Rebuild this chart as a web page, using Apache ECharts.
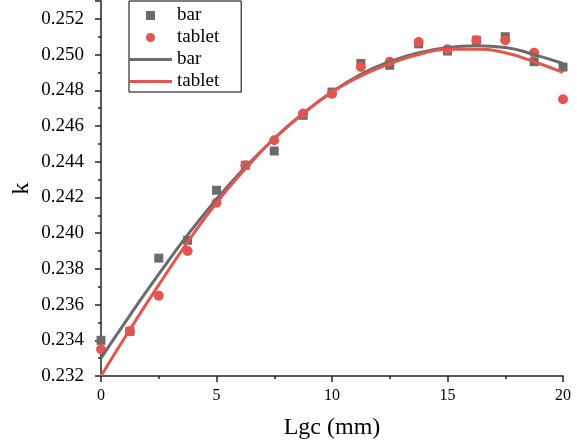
<!DOCTYPE html>
<html>
<head>
<meta charset="utf-8">
<script src="https://cdn.jsdelivr.net/npm/echarts@6/dist/echarts.min.js"></script>
<style>
  html, body { margin: 0; padding: 0; background: #fff; }
  #main { width: 577px; height: 445px; }
</style>
</head>
<body>
<div id="main"></div>
<script>
// Lgc positions (mm)
const lgc = [0, 1.25, 2.5, 3.75, 5, 6.25, 7.5, 8.75, 10, 11.25, 12.5, 13.75, 15, 16.25, 17.5, 18.75, 20];

// measured k
const barK    = [0.2340, 0.2345, 0.2386, 0.2396, 0.2424, 0.2438, 0.2446, 0.2466, 0.2479, 0.2495, 0.2494, 0.2506, 0.2502, 0.2508, 0.2510, 0.2496, 0.2493];
const tabletK = [0.2335, 0.2345, 0.2365, 0.2390, 0.2417, 0.2438, 0.2452, 0.2467, 0.2478, 0.2493, 0.2496, 0.2507, 0.2503, 0.2508, 0.2508, 0.2501, 0.2475];

// fitted curves at the same Lgc positions
const barFit    = [0.2330, 0.2354, 0.2377, 0.2399, 0.2419, 0.2437, 0.2453, 0.2467, 0.2479, 0.2489, 0.2496, 0.2501, 0.2504, 0.2505, 0.2504, 0.2500, 0.2495];
const tabletFit = [0.2320, 0.2346, 0.2371, 0.2395, 0.2417, 0.2436, 0.2453, 0.2467, 0.2479, 0.2488, 0.2495, 0.2500, 0.2503, 0.2503, 0.2501, 0.2496, 0.2490];

const grey = '#6b6b6b';
const red = '#e5554f';
const font = 'Liberation Serif';

function pairs(xs, ys) {
  return xs.map((x, i) => [x, ys[i]]);
}

let myChart = echarts.init(document.getElementById('main'));

// legend icons: small centred square, and a thick line
const squareIcon = 'path://M0,0M43,9M17,0h9v9h-9z';
const lineIcon = 'path://M0,0h43v3h-43z';

let option = {
  backgroundColor: '#fff',
  animation: false,
  textStyle: { fontFamily: font, color: '#000' },
  grid: { left: 101, right: 14, top: 1, bottom: 67 },
  legend: {
    orient: 'vertical',
    left: 129,
    top: 1,
    padding: [5, 22, 1, 0],
    itemGap: 3,
    itemWidth: 43,
    itemHeight: 9,
    symbolKeepAspect: true,
    borderColor: '#000',
    borderWidth: 1,
    backgroundColor: '#fff',
    textStyle: { fontFamily: font, fontSize: 19, color: '#000', lineHeight: 18 },
    formatter: name => name.replace(' fit', ''),
    data: [
      { name: 'bar', icon: squareIcon },
      { name: 'tablet', icon: 'circle' },
      { name: 'bar fit', icon: lineIcon },
      { name: 'tablet fit', icon: lineIcon }
    ]
  },
  xAxis: {
    type: 'value',
    min: 0,
    max: 20,
    interval: 5,
    name: 'Lgc (mm)',
    nameLocation: 'middle',
    nameGap: 40,
    nameTextStyle: { fontFamily: font, fontSize: 24, color: '#000' },
    axisLine: { lineStyle: { color: '#222', width: 1.5 } },
    axisTick: { show: true, length: 6, lineStyle: { color: '#222', width: 1.5 } },
    minorTick: { show: true, splitNumber: 2, length: 3, lineStyle: { color: '#222', width: 1.5 } },
    axisLabel: { show: true, fontFamily: font, fontSize: 16, color: '#000', margin: 12 },
    splitLine: { show: false }
  },
  yAxis: {
    type: 'value',
    min: 0.232,
    max: 0.253,
    interval: 0.002,
    name: 'k',
    nameLocation: 'middle',
    nameGap: 67,
    nameMoveOverlap: false,
    nameTextStyle: { fontFamily: font, fontSize: 24, color: '#000' },
    axisLine: { show: true, lineStyle: { color: '#222', width: 1.5 } },
    axisTick: { show: true, length: 6, lineStyle: { color: '#222', width: 1.5 } },
    minorTick: { show: true, splitNumber: 2, length: 3, lineStyle: { color: '#222', width: 1.5 } },
    axisLabel: {
      show: true, fontFamily: font, fontSize: 19, color: '#000', margin: 17,
      formatter: v => (Math.round(v * 1000) % 2 === 0 ? v.toFixed(3) : '')
    },
    splitLine: { show: false }
  },
  series: [
    {
      name: 'bar',
      type: 'scatter',
      symbol: 'rect',
      symbolSize: 9,
      itemStyle: { color: grey, opacity: 1 },
      data: pairs(lgc, barK)
    },
    {
      name: 'tablet',
      type: 'scatter',
      symbol: 'circle',
      symbolSize: 10,
      itemStyle: { color: red, opacity: 1 },
      data: pairs(lgc, tabletK)
    },
    {
      name: 'bar fit',
      type: 'line',
      smooth: true,
      symbol: 'none',
      itemStyle: { color: grey },
      lineStyle: { color: grey, width: 3 },
      data: pairs(lgc, barFit)
    },
    {
      name: 'tablet fit',
      type: 'line',
      smooth: true,
      symbol: 'none',
      itemStyle: { color: red },
      lineStyle: { color: red, width: 3 },
      data: pairs(lgc, tabletFit)
    }
  ]
};

option && myChart.setOption(option);
</script>
</body>
</html>
